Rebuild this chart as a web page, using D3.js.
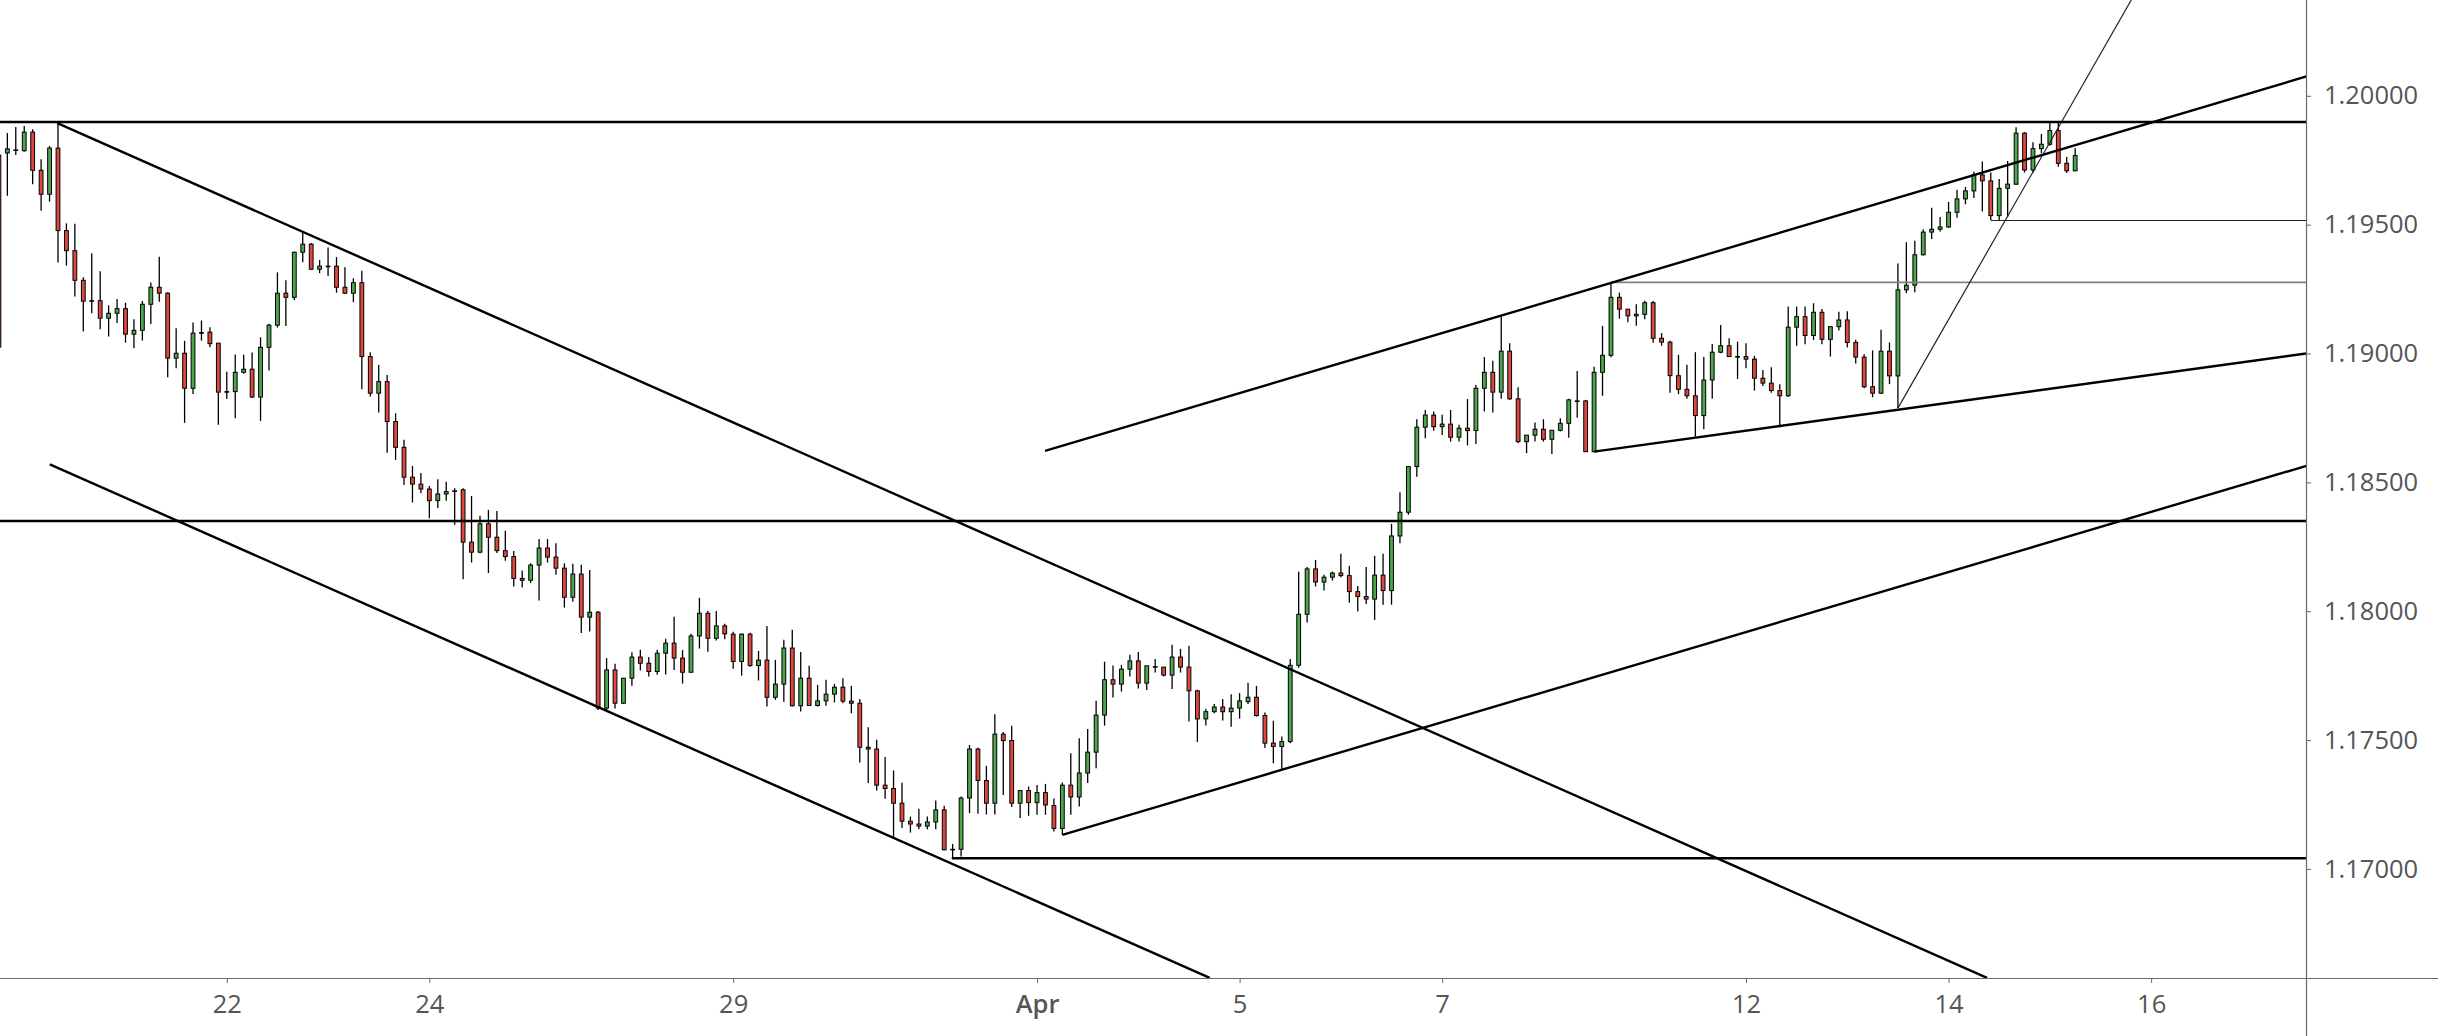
<!DOCTYPE html>
<html>
<head>
<meta charset="utf-8">
<script src="https://cdn.jsdelivr.net/npm/d3@7"></script>
<style>
  body { margin: 0; background: #fff; overflow: hidden; }
  svg { display: block; }
  .axis text { font-family: "Open Sans", sans-serif; font-size: 25.5px; fill: #555; }
  .axis line { stroke: #666; }
</style>
</head>
<body>
<div id="main-chart"></div>
<script>
// 2h EUR/USD bars, [open, high, low, close]
const bars = [
  [1.19770,1.19778,1.19018,1.19025],[1.19778,1.19856,1.19612,1.19794],[1.19790,1.19879,1.19770,1.19790],
  [1.19787,1.19883,1.19783,1.19859],[1.19859,1.19870,1.19657,1.19711],[1.19711,1.19754,1.19554,1.19618],
  [1.19618,1.19805,1.19589,1.19797],[1.19797,1.19894,1.19353,1.19477],[1.19477,1.19505,1.19341,1.19399],
  [1.19399,1.19503,1.19221,1.19284],[1.19284,1.19296,1.19085,1.19203],[1.19205,1.19389,1.19156,1.19205],
  [1.19205,1.19319,1.19094,1.19137],[1.19137,1.19187,1.19066,1.19156],[1.19156,1.19211,1.19118,1.19174],
  [1.19174,1.19197,1.19042,1.19075],[1.19075,1.19133,1.19020,1.19090],[1.19090,1.19204,1.19050,1.19191],
  [1.19191,1.19275,1.19114,1.19257],[1.19257,1.19375,1.19201,1.19234],[1.19234,1.19238,1.18908,1.18982],
  [1.18982,1.19098,1.18943,1.19001],[1.19001,1.19049,1.18731,1.18865],[1.18865,1.19120,1.18843,1.19079],
  [1.19081,1.19128,1.19050,1.19081],[1.19083,1.19102,1.19024,1.19038],[1.19040,1.19041,1.18723,1.18850],
  [1.18852,1.18929,1.18823,1.18852],[1.18852,1.18996,1.18749,1.18927],[1.18927,1.18995,1.18921,1.18939],
  [1.18939,1.19004,1.18827,1.18831],[1.18831,1.19063,1.18738,1.19024],[1.19024,1.19115,1.18934,1.19110],
  [1.19110,1.19315,1.19101,1.19234],[1.19234,1.19284,1.19107,1.19218],[1.19218,1.19395,1.19208,1.19393],
  [1.19393,1.19473,1.19354,1.19424],[1.19424,1.19429,1.19324,1.19327],[1.19327,1.19363,1.19312,1.19339],
  [1.19339,1.19411,1.19301,1.19339],[1.19339,1.19374,1.19236,1.19257],[1.19257,1.19335,1.19231,1.19234],
  [1.19234,1.19292,1.19199,1.19275],[1.19275,1.19321,1.18861,1.18988],[1.18988,1.19005,1.18833,1.18846],
  [1.18846,1.18955,1.18771,1.18891],[1.18891,1.18917,1.18615,1.18736],[1.18736,1.18768,1.18587,1.18636],
  [1.18636,1.18665,1.18490,1.18520],[1.18520,1.18564,1.18422,1.18493],[1.18493,1.18536,1.18458,1.18474],
  [1.18474,1.18486,1.18361,1.18429],[1.18429,1.18512,1.18400,1.18455],[1.18455,1.18502,1.18429,1.18464],
  [1.18467,1.18477,1.18335,1.18467],[1.18471,1.18477,1.18124,1.18268],[1.18268,1.18447,1.18189,1.18229],
  [1.18229,1.18370,1.18225,1.18339],[1.18339,1.18393,1.18148,1.18287],[1.18287,1.18389,1.18226,1.18235],
  [1.18235,1.18312,1.18196,1.18212],[1.18212,1.18234,1.18096,1.18127],[1.18127,1.18158,1.18092,1.18120],
  [1.18120,1.18186,1.18109,1.18179],[1.18179,1.18280,1.18041,1.18245],[1.18245,1.18280,1.18189,1.18210],
  [1.18210,1.18264,1.18141,1.18167],[1.18167,1.18186,1.18014,1.18054],[1.18054,1.18184,1.18037,1.18144],
  [1.18144,1.18180,1.17915,1.17977],[1.17977,1.18160,1.17921,1.17996],[1.17996,1.18001,1.17617,1.17624],
  [1.17624,1.17818,1.17617,1.17772],[1.17772,1.17796,1.17622,1.17643],[1.17643,1.17741,1.17640,1.17740],
  [1.17740,1.17841,1.17711,1.17822],[1.17822,1.17850,1.17770,1.17798],[1.17798,1.17822,1.17747,1.17766],
  [1.17766,1.17850,1.17753,1.17837],[1.17837,1.17893,1.17754,1.17876],[1.17876,1.17978,1.17772,1.17818],
  [1.17818,1.17849,1.17719,1.17763],[1.17763,1.17912,1.17763,1.17904],[1.17904,1.18052,1.17855,1.17992],
  [1.17992,1.18001,1.17843,1.17895],[1.17895,1.18001,1.17886,1.17943],[1.17943,1.17951,1.17891,1.17912],
  [1.17911,1.17920,1.17777,1.17805],[1.17805,1.17913,1.17750,1.17911],[1.17911,1.17916,1.17784,1.17789],
  [1.17789,1.17846,1.17731,1.17810],[1.17810,1.17943,1.17630,1.17666],[1.17666,1.17811,1.17656,1.17717],
  [1.17717,1.17889,1.17649,1.17857],[1.17857,1.17928,1.17630,1.17633],[1.17633,1.17842,1.17611,1.17740],
  [1.17740,1.17788,1.17633,1.17634],[1.17634,1.17714,1.17630,1.17652],[1.17652,1.17734,1.17633,1.17678],
  [1.17678,1.17718,1.17646,1.17705],[1.17705,1.17740,1.17643,1.17651],[1.17651,1.17710,1.17604,1.17643],
  [1.17643,1.17659,1.17413,1.17472],[1.17472,1.17550,1.17333,1.17465],[1.17465,1.17501,1.17304,1.17325],
  [1.17325,1.17434,1.17272,1.17312],[1.17312,1.17382,1.17119,1.17255],[1.17255,1.17334,1.17159,1.17185],
  [1.17185,1.17203,1.17141,1.17174],[1.17174,1.17233,1.17154,1.17166],[1.17166,1.17203,1.17154,1.17182],
  [1.17182,1.17265,1.17154,1.17229],[1.17229,1.17245,1.17072,1.17074],[1.17076,1.17097,1.17043,1.17076],
  [1.17076,1.17281,1.17048,1.17275],[1.17275,1.17481,1.17216,1.17465],[1.17465,1.17470,1.17214,1.17343],
  [1.17343,1.17400,1.17211,1.17255],[1.17255,1.17600,1.17211,1.17523],[1.17523,1.17531,1.17287,1.17498],
  [1.17498,1.17555,1.17240,1.17255],[1.17255,1.17304,1.17197,1.17304],[1.17304,1.17320,1.17206,1.17257],
  [1.17257,1.17326,1.17210,1.17296],[1.17296,1.17330,1.17210,1.17248],[1.17246,1.17273,1.17145,1.17157],
  [1.17157,1.17335,1.17132,1.17325],[1.17325,1.17449,1.17210,1.17279],[1.17279,1.17507,1.17242,1.17372],
  [1.17372,1.17543,1.17333,1.17453],[1.17453,1.17652,1.17391,1.17597],[1.17597,1.17804,1.17556,1.17734],
  [1.17734,1.17789,1.17665,1.17717],[1.17717,1.17792,1.17688,1.17775],[1.17775,1.17831,1.17747,1.17807],
  [1.17807,1.17842,1.17700,1.17721],[1.17721,1.17788,1.17694,1.17788],[1.17785,1.17814,1.17762,1.17785],
  [1.17783,1.17784,1.17747,1.17752],[1.17752,1.17870,1.17698,1.17822],[1.17822,1.17854,1.17762,1.17783],
  [1.17783,1.17866,1.17572,1.17691],[1.17691,1.17695,1.17492,1.17582],[1.17582,1.17621,1.17556,1.17610],
  [1.17610,1.17640,1.17604,1.17628],[1.17628,1.17659,1.17576,1.17610],[1.17610,1.17678,1.17552,1.17624],
  [1.17624,1.17682,1.17583,1.17652],[1.17649,1.17722,1.17640,1.17666],[1.17666,1.17710,1.17591,1.17595],
  [1.17595,1.17607,1.17469,1.17488],[1.17488,1.17575,1.17410,1.17475],[1.17475,1.17514,1.17387,1.17494],
  [1.17494,1.17814,1.17488,1.17790],[1.17790,1.18153,1.17781,1.17988],[1.17988,1.18171,1.17956,1.18164],
  [1.18164,1.18199,1.18096,1.18113],[1.18113,1.18141,1.18080,1.18132],[1.18132,1.18154,1.18119,1.18148],
  [1.18148,1.18223,1.18132,1.18138],[1.18138,1.18176,1.18033,1.18076],[1.18076,1.18098,1.17999,1.18057],
  [1.18057,1.18171,1.18028,1.18047],[1.18047,1.18215,1.17966,1.18140],[1.18140,1.18223,1.18025,1.18080],
  [1.18080,1.18339,1.18025,1.18292],[1.18292,1.18462,1.18264,1.18384],[1.18384,1.18564,1.18374,1.18561],
  [1.18561,1.18745,1.18522,1.18714],[1.18714,1.18781,1.18671,1.18761],[1.18761,1.18775,1.18700,1.18716],
  [1.18716,1.18762,1.18684,1.18726],[1.18726,1.18781,1.18658,1.18675],[1.18675,1.18723,1.18658,1.18710],
  [1.18710,1.18823,1.18643,1.18701],[1.18701,1.18878,1.18649,1.18865],[1.18865,1.18986,1.18775,1.18927],
  [1.18927,1.18972,1.18771,1.18850],[1.18850,1.19147,1.18824,1.19009],[1.19009,1.19040,1.18820,1.18824],
  [1.18824,1.18869,1.18652,1.18658],[1.18658,1.18683,1.18613,1.18683],[1.18683,1.18732,1.18658,1.18706],
  [1.18706,1.18745,1.18658,1.18667],[1.18667,1.18702,1.18610,1.18702],[1.18702,1.18749,1.18697,1.18729],
  [1.18729,1.18824,1.18673,1.18820],[1.18816,1.18932,1.18751,1.18816],[1.18816,1.18820,1.18618,1.18619],
  [1.18619,1.18949,1.18618,1.18927],[1.18927,1.19107,1.18836,1.18993],[1.18993,1.19276,1.18985,1.19218],
  [1.19218,1.19236,1.19135,1.19172],[1.19172,1.19173,1.19121,1.19146],[1.19146,1.19191,1.19108,1.19152],
  [1.19152,1.19205,1.19133,1.19197],[1.19197,1.19204,1.19042,1.19059],[1.19059,1.19079,1.19030,1.19044],
  [1.19044,1.19049,1.18848,1.18914],[1.18914,1.18995,1.18842,1.18861],[1.18861,1.18956,1.18824,1.18836],
  [1.18836,1.19005,1.18677,1.18759],[1.18759,1.18986,1.18706,1.18897],[1.18897,1.19037,1.18824,1.19005],
  [1.19005,1.19111,1.19001,1.19030],[1.19030,1.19059,1.18988,1.18988],[1.18988,1.19046,1.18901,1.18988],
  [1.18988,1.19040,1.18943,1.18978],[1.18978,1.18991,1.18856,1.18904],[1.18904,1.18936,1.18874,1.18885],
  [1.18885,1.18947,1.18848,1.18856],[1.18856,1.18881,1.18714,1.18836],[1.18836,1.19182,1.18831,1.19102],
  [1.19102,1.19182,1.19030,1.19143],[1.19143,1.19182,1.19036,1.19070],[1.19070,1.19195,1.19053,1.19160],
  [1.19160,1.19173,1.19036,1.19055],[1.19055,1.19104,1.18988,1.19104],[1.19104,1.19162,1.19089,1.19130],
  [1.19130,1.19164,1.19023,1.19043],[1.19043,1.19053,1.18961,1.18986],[1.18986,1.18997,1.18865,1.18871],
  [1.18871,1.19012,1.18830,1.18846],[1.18846,1.19092,1.18843,1.19009],[1.19009,1.19043,1.18881,1.18913],
  [1.18913,1.19349,1.18788,1.19247],[1.19247,1.19432,1.19234,1.19265],[1.19265,1.19437,1.19238,1.19383],
  [1.19383,1.19482,1.19380,1.19471],[1.19471,1.19566,1.19444,1.19482],[1.19482,1.19530,1.19473,1.19491],
  [1.19491,1.19588,1.19488,1.19548],[1.19548,1.19635,1.19527,1.19600],[1.19600,1.19646,1.19579,1.19631],
  [1.19631,1.19705,1.19603,1.19693],[1.19693,1.19745,1.19551,1.19670],[1.19670,1.19702,1.19518,1.19535],
  [1.19535,1.19677,1.19516,1.19641],[1.19641,1.19747,1.19531,1.19657],[1.19657,1.19878,1.19654,1.19855],
  [1.19855,1.19859,1.19702,1.19712],[1.19712,1.19820,1.19700,1.19795],[1.19795,1.19852,1.19777,1.19812],
  [1.19812,1.19894,1.19806,1.19865],[1.19865,1.19900,1.19725,1.19738],[1.19738,1.19762,1.19700,1.19709],
  [1.19709,1.19797,1.19707,1.19768]
];

// day labels on the time axis (bar index -> label)
const dayTicks = [27, 51, 87, 123, 147, 171, 207, 231, 255];
const dayLabels = ["22", "24", "29", "Apr", "5", "7", "12", "14", "16"];

const priceTicks = [1.17, 1.175, 1.18, 1.185, 1.19, 1.195, 1.2];

// drawn lines, [[barIndex, price], [barIndex, price]]
const thickLines = [
  [[0, 1.19898], [273.4, 1.19898]],
  [[0, 1.18350], [273.4, 1.18350]],
  [[112.9, 1.17041], [273.4, 1.17041]],
  [[6.92, 1.19894], [235.56, 1.16577]],
  [[6.03, 1.18570], [143.46, 1.16577]],
  [[126, 1.17132], [273.4, 1.18564]],
  [[123.95, 1.18622], [273.4, 1.20075]],
  [[189, 1.18619], [273.4, 1.19000]]
];
const greyLines = [
  [[191, 1.19276], [273.4, 1.19276]]
];
const thinLines = [
  [[236, 1.19516], [273.4, 1.19516]],
  [[225, 1.18788], [252.65, 1.20372]]
];

const width = 2438, height = 1036;
const plotW = 2306, plotH = 978;

const x = d3.scaleLinear().domain([0.13, 273.35]).range([0, plotW]);
const y = d3.scaleLinear().domain([1.165766, 1.203717]).range([plotH, 0]);

const svg = d3.select("#main-chart")
  .append("svg")
  .attr("width", width)
  .attr("height", height);

svg.append("rect").attr("width", width).attr("height", height).attr("fill", "#fff");

svg.append("clipPath").attr("id", "plot")
  .append("rect").attr("width", plotW).attr("height", plotH);

const plot = svg.append("g").attr("clip-path", "url(#plot)");

// candles
const bodyW = 3.8;
const candle = plot.selectAll("g.candle")
  .data(bars)
  .enter().append("g")
  .attr("class", "candle");

candle.append("line")
  .attr("x1", (d, i) => x(i))
  .attr("x2", (d, i) => x(i))
  .attr("y1", d => y(d[1]))
  .attr("y2", d => y(d[2]))
  .attr("stroke", "#000")
  .attr("stroke-width", 1.3);

candle.append("rect")
  .attr("x", (d, i) => x(i) - bodyW / 2)
  .attr("y", d => y(Math.max(d[0], d[3])))
  .attr("width", bodyW)
  .attr("height", d => Math.max(0.6, Math.abs(y(d[0]) - y(d[3]))))
  .attr("fill", d => d[3] >= d[0] ? "#4ca64c" : "#e0473c")
  .attr("stroke", "#000")
  .attr("stroke-width", 1);

// trend lines
function drawLines(list, color, w) {
  plot.selectAll(null)
    .data(list)
    .enter().append("line")
    .attr("x1", d => x(d[0][0]))
    .attr("y1", d => y(d[0][1]))
    .attr("x2", d => x(d[1][0]))
    .attr("y2", d => y(d[1][1]))
    .attr("stroke", color)
    .attr("stroke-width", w);
}
drawLines(greyLines, "#808080", 1.8);
drawLines(thinLines, "#222", 1.2);
drawLines(thickLines, "#000", 2.4);

// axes
const yAxis = svg.append("g")
  .attr("class", "axis")
  .attr("transform", `translate(${plotW},0)`)
  .call(d3.axisRight(y).tickValues(priceTicks).tickFormat(d3.format(".5f")).tickSize(5).tickPadding(13));
yAxis.select(".domain").remove();

const xAxis = svg.append("g")
  .attr("class", "axis")
  .attr("transform", `translate(0,${plotH})`)
  .call(d3.axisBottom(x).tickValues(dayTicks).tickFormat((d, i) => dayLabels[i]).tickSize(5).tickPadding(12));
xAxis.select(".domain").remove();
// month names are shown heavier
xAxis.selectAll("text").filter(d => d === 123).style("font-weight", "600");

// frame lines run the full width / height
svg.append("line")
  .attr("x1", 0).attr("x2", width)
  .attr("y1", plotH + 0.5).attr("y2", plotH + 0.5)
  .attr("stroke", "#6a6a6a").attr("stroke-width", 1.2);
svg.append("line")
  .attr("x1", plotW + 0.5).attr("x2", plotW + 0.5)
  .attr("y1", 0).attr("y2", height)
  .attr("stroke", "#6a6a6a").attr("stroke-width", 1.2);
</script>
</body>
</html>
